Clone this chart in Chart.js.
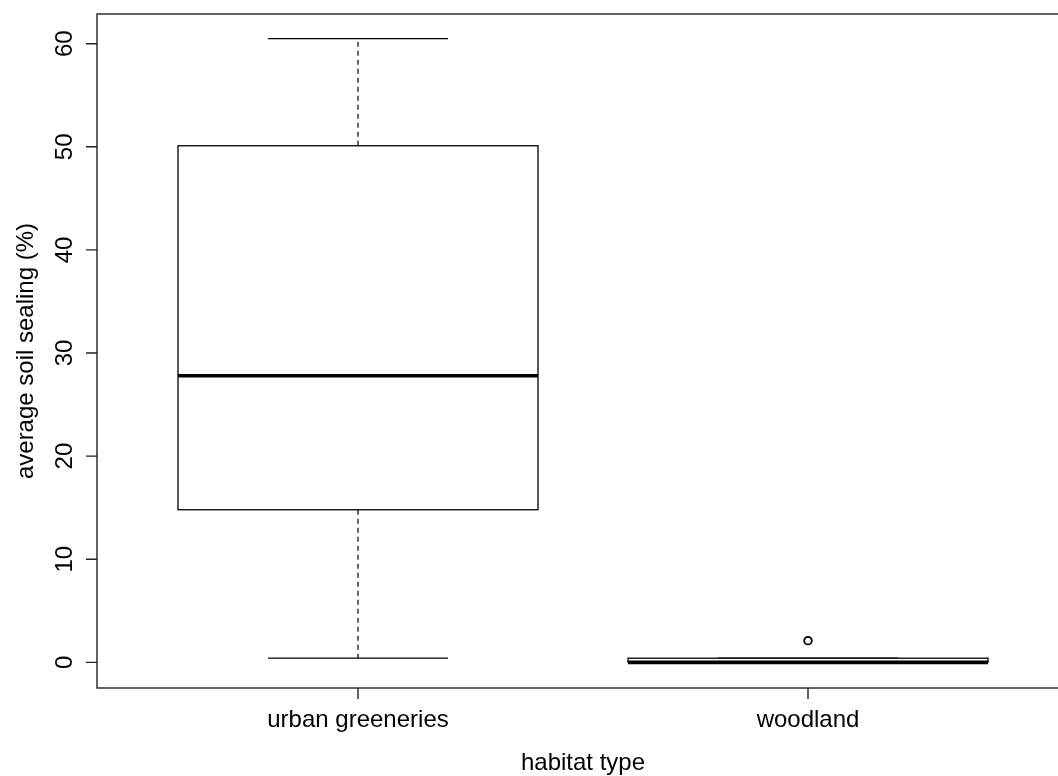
<!DOCTYPE html>
<html>
<head>
<meta charset="utf-8">
<title>Average soil sealing by habitat type</title>
<script src="https://cdn.jsdelivr.net/npm/chart.js@4/dist/chart.umd.min.js"></script>
<style>
  html, body { margin: 0; padding: 0; background: #ffffff; overflow: hidden; }
  #wrap { width: 1058px; height: 776px; overflow: hidden; }
  canvas { display: block; }
</style>
</head>
<body>
<div id="wrap"><canvas id="c" width="1080" height="776"></canvas></div>
<script>
// Box-plot summary per habitat type (average soil sealing, %)
const categories  = ['urban greeneries', 'woodland'];
const whiskerLow  = [0.4, 0.0];
const q1          = [14.8, 0.0];
const median      = [27.8, 0.0];
const q3          = [50.1, 0.4];
const whiskerHigh = [60.5, 0.4];
const outliers    = [[], [2.1]];

const yTicks = [0, 10, 20, 30, 40, 50, 60];
const xTitle = 'habitat type';
const yTitle = 'average soil sealing (%)';

const FONT = '24px "Liberation Sans", Arial, sans-serif';
const INK = '#000000';

// Outlier points as a scatter dataset
const outlierPoints = [];
categories.forEach((c, i) => outliers[i].forEach(v => outlierPoints.push({ x: i + 1, y: v })));

const boxPlugin = {
  id: 'boxes',
  beforeDatasetsDraw(chart) {
    const { ctx, scales: { x, y } } = chart;
    ctx.save();
    ctx.strokeStyle = INK;
    ctx.lineCap = 'butt';

    categories.forEach((cat, i) => {
      const cx = x.getPixelForValue(i + 1);
      const bl = x.getPixelForValue(i + 1 - 0.4), br = x.getPixelForValue(i + 1 + 0.4);
      const sl = x.getPixelForValue(i + 1 - 0.2), sr = x.getPixelForValue(i + 1 + 0.2);
      const yq1 = y.getPixelForValue(q1[i]), yq3 = y.getPixelForValue(q3[i]);
      const ymed = y.getPixelForValue(median[i]);
      const ylo = y.getPixelForValue(whiskerLow[i]), yhi = y.getPixelForValue(whiskerHigh[i]);

      // dashed whiskers
      ctx.lineWidth = 1.2;
      ctx.setLineDash([5, 4]);
      ctx.beginPath();
      ctx.moveTo(cx, yq3); ctx.lineTo(cx, yhi);
      ctx.moveTo(cx, yq1); ctx.lineTo(cx, ylo);
      ctx.stroke();
      ctx.setLineDash([]);

      // staples
      ctx.lineWidth = 1.3;
      ctx.beginPath();
      ctx.moveTo(sl, yhi); ctx.lineTo(sr, yhi);
      ctx.moveTo(sl, ylo); ctx.lineTo(sr, ylo);
      ctx.stroke();

      // box
      ctx.fillStyle = '#ffffff';
      ctx.fillRect(bl, yq3, br - bl, yq1 - yq3);
      ctx.lineWidth = 1.3;
      ctx.strokeRect(bl, yq3, br - bl, yq1 - yq3);

      // median
      ctx.lineWidth = 3.6;
      ctx.beginPath();
      ctx.moveTo(bl, ymed); ctx.lineTo(br, ymed);
      ctx.stroke();
    });
    ctx.restore();
  },
  afterDraw(chart) {
    const { ctx, chartArea: a, scales: { x, y } } = chart;
    ctx.save();
    ctx.strokeStyle = '#222222';
    ctx.lineWidth = 1.4;
    // frame
    ctx.strokeRect(a.left, a.top, a.right - a.left, a.bottom - a.top);

    ctx.fillStyle = INK;
    ctx.font = FONT;

    // y axis ticks and rotated labels
    ctx.beginPath();
    yTicks.forEach(v => {
      const py = y.getPixelForValue(v);
      ctx.moveTo(a.left, py); ctx.lineTo(a.left - 11, py);
    });
    ctx.stroke();
    ctx.textAlign = 'center';
    ctx.textBaseline = 'alphabetic';
    yTicks.forEach(v => {
      const py = y.getPixelForValue(v);
      ctx.save();
      ctx.translate(a.left - 25, py);
      ctx.rotate(-Math.PI / 2);
      ctx.fillText(String(v), 0, 0);
      ctx.restore();
    });

    // x axis ticks and labels
    ctx.beginPath();
    categories.forEach((c, i) => {
      const px = x.getPixelForValue(i + 1);
      ctx.moveTo(px, a.bottom); ctx.lineTo(px, a.bottom + 11);
    });
    ctx.stroke();
    categories.forEach((c, i) => {
      ctx.fillText(c, x.getPixelForValue(i + 1), a.bottom + 39);
    });

    // axis titles
    ctx.fillText(xTitle, x.getPixelForValue((x.min + x.max) / 2), a.bottom + 82);
    ctx.save();
    ctx.translate(a.left - 64, (a.top + a.bottom) / 2);
    ctx.rotate(-Math.PI / 2);
    ctx.fillText(yTitle, 0, 0);
    ctx.restore();
    ctx.restore();
  }
};

new Chart(document.getElementById('c'), {
  type: 'scatter',
  data: {
    datasets: [{
      data: outlierPoints,
      pointStyle: 'circle',
      pointRadius: 3.8,
      pointHoverRadius: 3.8,
      pointBorderWidth: 1.8,
      pointBackgroundColor: '#ffffff',
      pointBorderColor: INK
    }]
  },
  options: {
    responsive: false,
    animation: false,
    events: [],
    layout: { padding: { left: 97, top: 14, right: 11, bottom: 88 } },
    plugins: { legend: { display: false }, tooltip: { enabled: false } },
    scales: {
      x: { type: 'linear', display: false, bounds: 'data', min: 0.42, max: 2.58 },
      y: { type: 'linear', display: false, bounds: 'data', min: -2.49, max: 62.88 }
    }
  },
  plugins: [boxPlugin]
});
</script>
</body>
</html>
